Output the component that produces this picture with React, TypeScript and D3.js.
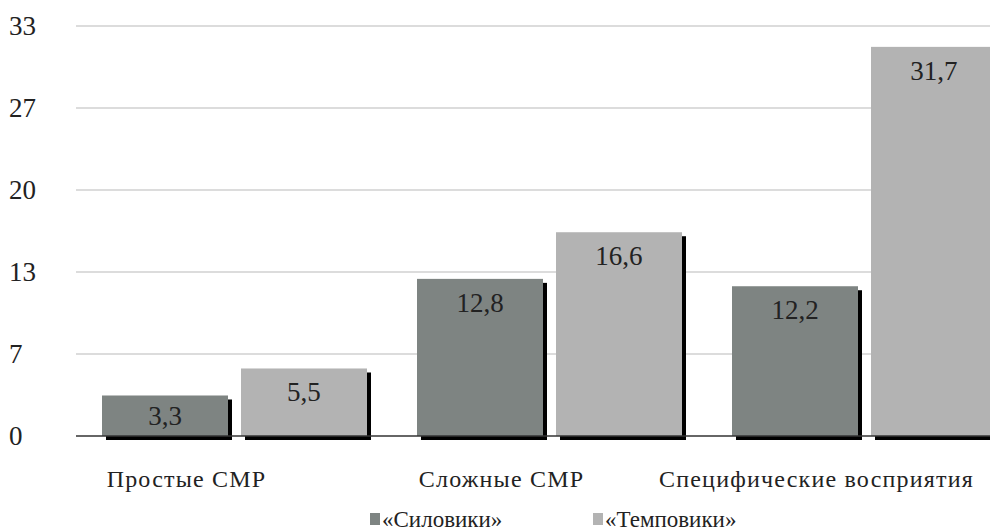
import React from "react";
import * as d3 from "d3";

const categories = ["Простые СМР", "Сложные СМР", "Специфические восприятия"];
const seriesNames = ["«Силовики»", "«Темповики»"];
const silovikiValues = [3.3, 12.8, 12.2];
const tempovikiValues = [5.5, 16.6, 31.7];
const yMax = 33.4;
const tickCount = 5;

const W = 990;
const H = 532;
const colors = ["#7e8482", "#b3b3b3"];
const FONT = "Liberation Serif";

export default function App() {
  const series = [silovikiValues, tempovikiValues];
  const x0 = d3.scaleBand<string>().domain(categories).range([76, 1021]).paddingInner(0).paddingOuter(0);
  const x1 = d3
    .scaleBand<string>()
    .domain(seriesNames)
    .range([26, 291])
    .paddingInner(0.0935)
    .paddingOuter(0);
  const y = d3.scaleLinear().domain([0, yMax]).range([436, 26]);
  const ticks = d3.range(tickCount + 1).map((i) => (i * yMax) / tickCount);
  const fmt = (v: number) => v.toFixed(1).replace(".", ",");
  const bw = x1.bandwidth();

  return (
    <svg width={W} height={H} style={{ position: "fixed", left: 0, top: 0, background: "#fff" }}>
      {ticks.map((t, i) => (
        <g key={i}>
          {i > 0 && <line x1={76} x2={W} y1={y(t)} y2={y(t)} stroke="#dcdcdc" strokeWidth={2} />}
          <text x={9} y={y(t) + 9} fontFamily={FONT} fontSize={27} fill="#222">
            {Math.round(t)}
          </text>
        </g>
      ))}
      {categories.map((c, ci) =>
        seriesNames.map((s, si) => {
          const v = series[si][ci];
          const bx = (x0(c) as number) + (x1(s) as number);
          const top = y(v);
          const h = y(0) - top;
          const labelY = h < 50 ? top + h / 2 + 9 : top + 33;
          return (
            <g key={c + s}>
              <rect x={bx + 4} y={top + 4} width={bw} height={h} fill="#000" />
              <rect x={bx} y={top} width={bw} height={h} fill={colors[si]} />
              <text x={bx + bw / 2} y={labelY} textAnchor="middle" fontFamily={FONT} fontSize={27} fill="#222">
                {fmt(v)}
              </text>
            </g>
          );
        })
      )}
      <line x1={76} x2={W} y1={y(0)} y2={y(0)} stroke="#333" strokeWidth={1.5} />
      {categories.map((c) => (
        <text
          key={c}
          x={(x0(c) as number) + x0.bandwidth() / 2 - 47}
          y={487}
          textAnchor="middle"
          fontFamily={FONT}
          fontSize={24}
          letterSpacing={1.2}
          fill="#222"
        >
          {c}
        </text>
      ))}
      {seriesNames.map((s, si) => {
        const lx = si === 0 ? 370 : 593;
        return (
          <g key={s}>
            <rect x={lx} y={513} width={10} height={12} fill={colors[si]} />
            <text x={lx + 12} y={527} fontFamily={FONT} fontSize={23} fill="#222">
              {s}
            </text>
          </g>
        );
      })}
    </svg>
  );
}
